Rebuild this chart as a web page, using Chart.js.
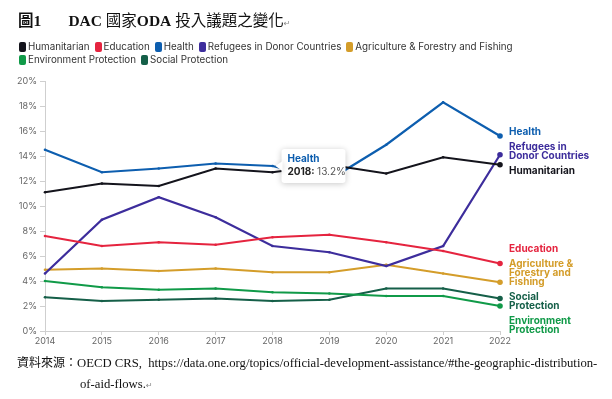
<!DOCTYPE html>
<html>
<head>
<meta charset="utf-8">
<script src="https://cdn.jsdelivr.net/npm/chart.js@4/dist/chart.umd.min.js"></script>
<style>
    html, body { margin: 0; padding: 0; background: #fff; }
    #page { position: relative; width: 612px; height: 399px; overflow: hidden; }
    #chartBox { position: absolute; left: 0; top: 0; width: 612px; height: 399px; }
    #title { position: absolute; left: 18px; top: 8px; font-family: "Liberation Serif", "Noto Sans CJK TC", serif; font-size: 15.5px; color: #111; white-space: nowrap; }
    #title b { font-weight: bold; }
    #legend { position: absolute; left: 19px; top: 41px; width: 520px; display: flex; flex-wrap: wrap; font-family: Inter, "Noto Sans", sans-serif; font-size: 9.8px; color: #333; line-height: 12.5px; }
    .item { display: flex; align-items: center; margin-right: 5px; white-space: nowrap; }
    .box { width: 7px; height: 10px; border-radius: 2px; margin-right: 2px; }
    #source { position: absolute; left: 17px; top: 353px; font-family: "Liberation Serif", "Noto Sans CJK TC", serif; font-size: 12px; color: #111; white-space: nowrap; line-height: 21px; }
    #source .lat { font-size: 12.7px; }
    .mark { font-family: "DejaVu Sans"; font-size: 8px; color: #888; }
</style>
</head>
<body>
<div id="page">
    <div id="chartBox"><canvas id="chart" width="612" height="399"></canvas></div>
    <div id="title"><b>圖1&nbsp;&nbsp;&nbsp;&nbsp;&nbsp;&nbsp;&nbsp;DAC</b> 國家<b>ODA</b> 投入議題之變化<span class="mark">↵</span></div>
    <div id="legend"></div>
    <div id="source">資料來源：<span class="lat">OECD CRS,&nbsp; https://data.one.org/topics/official-development-assistance/#the-geographic-distribution-</span><br><span class="lat" style="padding-left:63px">of-aid-flows.<span class="mark">↵</span></span></div>
</div>
<script>
// 年份與各議題佔比 (%)
const years = ['2014', '2015', '2016', '2017', '2018', '2019', '2020', '2021', '2022'];
const humanitarian = [11.1, 11.8, 11.6, 13.0, 12.7, 13.3, 12.6, 13.9, 13.3];
const education = [7.6, 6.8, 7.1, 6.9, 7.5, 7.7, 7.1, 6.4, 5.4];
const health = [14.5, 12.7, 13.0, 13.4, 13.2, 12.1, 14.9, 18.3, 15.6];
const refugees = [4.6, 8.9, 10.7, 9.1, 6.8, 6.3, 5.2, 6.8, 14.1];
const agriculture = [4.9, 5.0, 4.8, 5.0, 4.7, 4.7, 5.3, 4.6, 3.9];
const environment = [4.0, 3.5, 3.3, 3.4, 3.1, 3.0, 2.8, 2.8, 2.0];
const social = [2.7, 2.4, 2.5, 2.6, 2.4, 2.5, 3.4, 3.4, 2.6];

const yTicks = [0, 2, 4, 6, 8, 10, 12, 14, 16, 18, 20];

const series = [
    { name: 'Humanitarian', data: humanitarian, color: '#14141c', end: ['Humanitarian'] },
    { name: 'Education', data: education, color: '#e5243f', end: ['Education'] },
    { name: 'Health', data: health, color: '#0d5eaf', end: ['Health'] },
    { name: 'Refugees in Donor Countries', data: refugees, color: '#3d2d9c', end: ['Refugees in', 'Donor Countries'] },
    { name: 'Agriculture & Forestry and Fishing', data: agriculture, color: '#d49d2a', end: ['Agriculture &', 'Forestry and', 'Fishing'] },
    { name: 'Environment Protection', data: environment, color: '#109a48', end: ['Environment', 'Protection'] },
    { name: 'Social Protection', data: social, color: '#155f48', end: ['Social', 'Protection'] }
];

// tooltip shown in the picture
const tipSeries = 'Health';
const tipIndex = 4;

const FONT = 'Inter, "Noto Sans", sans-serif';

// HTML legend
const legendDiv = document.getElementById('legend');
series.forEach(s => {
    const item = document.createElement('div');
    item.className = 'item';
    item.innerHTML = `<span class="box" style="background:${s.color}"></span>${s.name}`;
    legendDiv.appendChild(item);
});

// end-of-line labels, overlapping ones are grouped and centred on their points
const endLabels = {
    id: 'endLabels',
    afterDatasetsDraw(chart) {
        const ctx = chart.ctx;
        const lineH = 9;
        const gap = 6;
        let boxes = chart.data.datasets.map((ds, i) => {
            const meta = chart.getDatasetMeta(i);
            const pt = meta.data[meta.data.length - 1];
            const h = ds.endLabel.length * lineH;
            return { ds, want: pt.y, h };
        }).sort((a, b) => a.want - b.want);

        let groups = boxes.map(b => ({ items: [b], top: b.want - b.h / 2 }));
        const groupHeight = g => g.items.reduce((s, b) => s + b.h, 0) + gap * (g.items.length - 1);
        const place = g => {
            let off = 0, sum = 0;
            g.items.forEach(b => { sum += b.want - (off + b.h / 2); off += b.h + gap; });
            g.top = sum / g.items.length;
        };
        let merged = true;
        while (merged) {
            merged = false;
            for (let i = 0; i < groups.length - 1; i++) {
                const a = groups[i], b = groups[i + 1];
                if (a.top + groupHeight(a) + gap > b.top) {
                    a.items = a.items.concat(b.items);
                    place(a);
                    groups.splice(i + 1, 1);
                    merged = true;
                    break;
                }
            }
        }

        ctx.save();
        ctx.font = 'bold 10px ' + FONT;
        ctx.textBaseline = 'middle';
        ctx.textAlign = 'left';
        const x = chart.chartArea.right + 9;
        groups.forEach(g => {
            let y = g.top;
            g.items.forEach(b => {
                ctx.fillStyle = b.ds.borderColor;
                b.ds.endLabel.forEach((t, k) => ctx.fillText(t, x, y + lineH * k + lineH / 2));
                y += b.h + gap;
            });
        });
        ctx.restore();
    }
};

// static tooltip box
const staticTip = {
    id: 'staticTip',
    afterDatasetsDraw(chart) {
        const i = chart.data.datasets.findIndex(d => d.label === tipSeries);
        const ds = chart.data.datasets[i];
        const pt = chart.getDatasetMeta(i).data[tipIndex];
        const ctx = chart.ctx;
        const w = 64, h = 34;
        const bx = pt.x + 9, by = pt.y - h / 2;
        ctx.save();
        ctx.shadowColor = 'rgba(0,0,0,0.22)';
        ctx.shadowBlur = 6;
        ctx.shadowOffsetY = 1;
        ctx.fillStyle = '#fff';
        ctx.beginPath();
        ctx.roundRect(bx, by, w, h, 3);
        ctx.fill();
        ctx.beginPath();
        ctx.moveTo(bx + 1, pt.y - 5);
        ctx.lineTo(bx - 6, pt.y);
        ctx.lineTo(bx + 1, pt.y + 5);
        ctx.fill();
        ctx.restore();

        ctx.save();
        ctx.textBaseline = 'middle';
        ctx.textAlign = 'left';
        ctx.font = 'bold 10px ' + FONT;
        ctx.fillStyle = ds.borderColor;
        ctx.fillText(ds.label, bx + 6, by + 10);
        const head = chart.data.labels[tipIndex] + ':';
        ctx.fillStyle = '#222';
        ctx.fillText(head, bx + 6, by + 23);
        const hw = ctx.measureText(head + ' ').width;
        ctx.font = '10px ' + FONT;
        ctx.fillStyle = '#555';
        ctx.fillText(ds.data[tipIndex].toFixed(1) + '%', bx + 6 + hw, by + 23);
        ctx.restore();
    }
};

const ctx = document.getElementById('chart').getContext('2d');
new Chart(ctx, {
    type: 'line',
    data: {
        labels: years,
        datasets: series.map(s => ({
            label: s.name,
            data: s.data,
            endLabel: s.end,
            borderColor: s.color,
            backgroundColor: s.color,
            borderWidth: 2.2,
            tension: 0,
            pointRadius: c => c.dataIndex === years.length - 1 ? 2.8 : 1.3,
            pointBorderWidth: 0
        }))
    },
    options: {
        responsive: false,
        animation: false,
        events: [],
        layout: { padding: { left: 0, top: 81, right: 112, bottom: 54 } },
        plugins: {
            legend: { display: false },
            tooltip: { enabled: false }
        },
        scales: {
            x: {
                offset: false,
                grid: { drawOnChartArea: false, drawTicks: true, tickLength: 4, color: '#cfcfcf' },
                border: { color: '#cfcfcf', width: 1 },
                ticks: { color: '#666', font: { family: FONT, size: 9 }, padding: 1, maxRotation: 0, autoSkip: false },
                afterFit: s => { s.height = 14; }
            },
            y: {
                min: 0,
                max: 20,
                afterBuildTicks: s => { s.ticks = yTicks.map(v => ({ value: v })); },
                grid: { drawOnChartArea: false, drawTicks: true, tickLength: 5, color: '#cfcfcf' },
                border: { color: '#cfcfcf', width: 1 },
                ticks: { color: '#666', font: { family: FONT, size: 9 }, padding: 3, callback: v => v + '%' },
                afterFit: s => { s.width = 45; }
            }
        }
    },
    plugins: [endLabels, staticTip]
});
</script>
</body>
</html>
